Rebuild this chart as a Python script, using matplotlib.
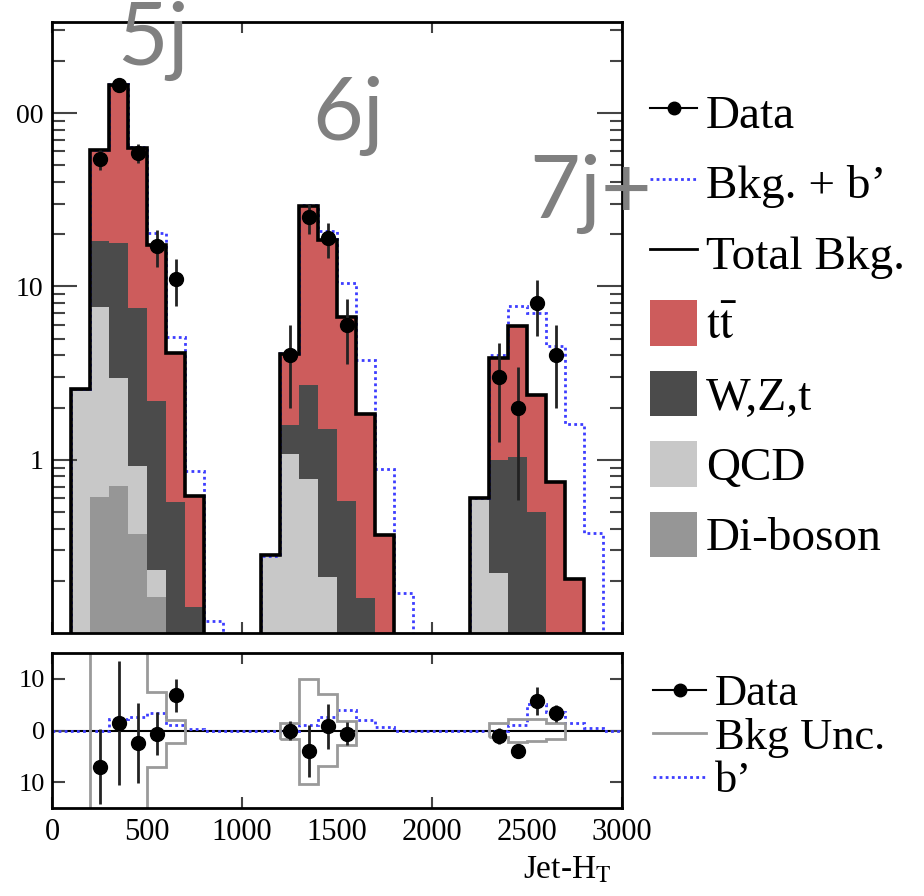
import matplotlib
matplotlib.use("Agg")
import matplotlib.pyplot as plt
import numpy as np
from matplotlib.lines import Line2D
from matplotlib.patches import Patch

plt.rcParams["font.family"] = ["Liberation Serif", "DejaVu Serif"]
plt.rcParams["mathtext.fontset"] = "stix"

BIN_WIDTH = 100
N_BINS = 30      # 0 - 3000

# first bin edge of each jet multiplicity block
start_5j, start_6j, start_7j = 100, 1100, 2200

# stacked background yields per 100 GeV bin
diboson_5j = [0, 0.61, 0.70, 0.37, 0.16, 0, 0]
qcd_5j = [2.50, 7.0, 2.27, 0.55, 0.07, 0, 0]
wzt_5j = [0.07, 10.6, 14.8, 6.6, 1.96, 0.57, 0.14]
ttbar_5j = [0, 43.3, 128, 55.5, 15.2, 3.57, 0.48]

qcd_6j = [0.28, 1.08, 0.77, 0.21, 0, 0, 0]
wzt_6j = [0, 0.51, 1.94, 1.29, 0.575, 0.159, 0.01]
ttbar_6j = [0, 2.5, 26.2, 16.9, 6.1, 1.68, 0.356]

qcd_7j = [0.60, 0.22, 0, 0, 0, 0]
wzt_7j = [0, 0.78, 1.04, 0.50, 0.01, 0]
ttbar_7j = [0, 2.86, 4.89, 1.87, 0.73, 0.205]

# background + b' signal
bkg_sig_5j = [2.57, 61.6, 147, 64, 20.4, 5.1, 0.86, 0.117]
bkg_sig_6j = [0.28, 4.1, 29.5, 20.8, 10.4, 3.78, 0.88, 0.17]
bkg_sig_7j = [0.6, 4.0, 7.7, 7.0, 4.5, 1.6, 0.38]

# observed events
data_x = [250, 350, 450, 550, 650, 1250, 1350, 1450, 1550, 2350, 2450, 2550, 2650]
data_n = [54, 146, 59, 17, 11, 4, 25, 19, 6, 3, 2, 8, 4]

# lower panel: data - bkg, background uncertainty and b' contribution
resid_y = [-7.0, 1.5, -2.4, -0.6, 6.8, 0.0, -4.0, 0.8, -0.6, -1.1, -4.0, 5.7, 3.3]
resid_err = [7.2, 12.0, 7.7, 4.1, 3.2, 1.8, 5.0, 4.3, 2.2, 1.5, 0.6, 2.7, 1.7]

unc_start = [200, 1200, 2300]
unc_up = [[20, 20, 20, 7.4, 2.1], [1.5, 10, 7.0, 1.8], [1.4, 2.3, 2.3, 1.4]]
unc_down = [[-20, -20, -20, -7.0, -2.4], [-1.6, -10.3, -6.8, -2.9], [-1.2, -2.3, -2.0, -1.6]]

bprime_5j = [0, 0, 2.2, 2.7, 3.3, 1.0, 0.3]
bprime_6j = [1.0, 2.7, 3.9, 2.1, 0.6]
bprime_7j = [1.0, 5.1, 3.5, 1.5, 0.4]

RED = "#cd5c5c"
DARK = "#4b4b4b"
LIGHT = "#c8c8c8"
MID = "#969696"
BLUE = "#3d3dff"
TICK = "#444444"


def fill_bins(*blocks):
    out = np.zeros(N_BINS)
    for start, values in blocks:
        i = start // BIN_WIDTH
        out[i:i + len(values)] = values
    return out


edges = np.arange(0, BIN_WIDTH * N_BINS + 1, BIN_WIDTH)
diboson = fill_bins((start_5j, diboson_5j))
qcd = fill_bins((start_5j, qcd_5j), (start_6j, qcd_6j), (start_7j, qcd_7j))
wzt = fill_bins((start_5j, wzt_5j), (start_6j, wzt_6j), (start_7j, wzt_7j))
ttbar = fill_bins((start_5j, ttbar_5j), (start_6j, ttbar_6j), (start_7j, ttbar_7j))
bkg_sig = fill_bins((start_5j, bkg_sig_5j), (start_6j, bkg_sig_6j), (start_7j, bkg_sig_7j))
bprime = fill_bins((start_5j, bprime_5j), (1300, bprime_6j), (2400, bprime_7j))

fig = plt.figure(figsize=(9.24, 8.96), dpi=100)
ax = fig.add_axes([0.0563, 0.2935, 0.6169, 0.6819])
rax = fig.add_axes([0.0563, 0.0982, 0.6169, 0.1730])

# --- upper panel: stacked backgrounds on log scale
floor = 1e-3
bottom = np.full(N_BINS, floor)
for values, color in [(diboson, MID), (qcd, LIGHT), (wzt, DARK), (ttbar, RED)]:
    top = bottom + values
    ax.stairs(top, edges, baseline=bottom, fill=True, color=color, lw=0, zorder=1)
    bottom = top

ax.stairs(np.maximum(bkg_sig, floor), edges, baseline=None, color=BLUE, ls=(0, (1, 1.2)), lw=2,
          zorder=2)
ax.stairs(bottom, edges, baseline=None, color="black", lw=2.6, zorder=3)

data_n = np.array(data_n, dtype=float)
ax.errorbar(data_x, data_n, yerr=np.sqrt(data_n), fmt="o", color="black", ms=10,
            ecolor="#222222", elinewidth=2, capsize=0, zorder=4)

ax.set_yscale("log")
ax.set_xlim(0, 3000)
ax.set_ylim(0.1, 335)
ax.set_xticks([0, 1000, 2000, 3000])
ax.set_yticks([1, 10, 100])
ax.set_yticklabels(["1", "10", "00"])
ax.tick_params(axis="x", direction="in", length=8, width=1.5, top=True, labelbottom=False, color=TICK)
ax.tick_params(axis="y", which="major", direction="in", length=18, width=1.5, right=True,
               labelsize=20, pad=6, color=TICK)
ax.tick_params(axis="y", which="minor", direction="in", length=9, width=1.5, right=True, color=TICK)
for spine in ax.spines.values():
    spine.set_linewidth(2)

handles = [
    Line2D([], [], color="black", marker="o", ms=9, lw=1.5),
    Line2D([], [], color=BLUE, ls=(0, (1, 1.2)), lw=2),
    Line2D([], [], color="black", lw=2),
    Patch(fc=RED),
    Patch(fc=DARK),
    Patch(fc=LIGHT),
    Patch(fc=MID),
]
labels = ["Data", "Bkg. + b\u2019", "Total Bkg.", r"$\mathrm{t\bar{t}}$", "W,Z,t", "QCD", "Di-boson"]
ax.legend(handles, labels, loc="upper left", bbox_to_anchor=(650 / 924, 1 - 89 / 896),
          bbox_transform=fig.transFigure, frameon=False, fontsize=34, handlelength=1.0,
          handleheight=1.1, handletextpad=0.18, labelspacing=0.46, borderpad=0, borderaxespad=0)

# --- lower panel: residuals
rax.axhline(0, color="black", lw=1.5, zorder=1)
rax.stairs(bprime, edges, baseline=None, color=BLUE, ls=(0, (1, 1.2)), lw=2, zorder=2)
for start, up, down in zip(unc_start, unc_up, unc_down):
    e = np.arange(start, start + BIN_WIDTH * (len(up) + 1), BIN_WIDTH)
    rax.stairs(up, e, baseline=down, fill=False, color="#9a9a9a", lw=2, zorder=2)
rax.errorbar(data_x, resid_y, yerr=resid_err, fmt="o", color="black", ms=10,
             ecolor="#222222", elinewidth=2, capsize=0, zorder=4)

rax.set_xlim(0, 3000)
rax.set_ylim(-15, 15)
rax.set_xticks([0, 1000, 2000, 3000])
rax.set_xticks([500, 1500, 2500], labels=["500", "1500", "2500"], minor=True)
rax.set_yticks([-10, 0, 10])
rax.set_yticklabels(["10", "0", "10"])
rax.tick_params(axis="x", which="major", direction="in", length=8, width=1.5, top=True,
                labelsize=22, pad=7, color=TICK)
rax.tick_params(axis="x", which="minor", length=0, labelsize=22, pad=7)
rax.tick_params(axis="y", direction="in", length=9, width=1.5, right=True, labelsize=19, pad=5,
                color=TICK)
for spine in rax.spines.values():
    spine.set_linewidth(2)
rax.set_xlabel(r"Jet-H$_\mathrm{T}$", fontsize=24, ha="right", va="top")
rax.xaxis.set_label_coords(0.982, -0.3)

rhandles = [
    Line2D([], [], color="black", marker="o", ms=9, lw=1.5),
    Line2D([], [], color="#9a9a9a", lw=2),
    Line2D([], [], color=BLUE, ls=(0, (1, 1.2)), lw=2),
]
rax.legend(rhandles, ["Data", "Bkg Unc.", "b\u2019"], loc="upper left",
           bbox_to_anchor=(653 / 924, 1 - 674 / 896), bbox_transform=fig.transFigure,
           frameon=False, fontsize=32, handlelength=1.2, handletextpad=0.2,
           labelspacing=0.08, borderpad=0, borderaxespad=0)

# jet multiplicity labels
for label, x, y in [("5j", 117, 65), ("6j", 312, 140), ("7j+", 529, 218)]:
    fig.text(x / 924, 1 - y / 896, label, family=["Lato", "DejaVu Sans"], fontsize=63,
             color="#808080", ha="left", va="baseline")

fig.savefig("out.png", dpi=100)
